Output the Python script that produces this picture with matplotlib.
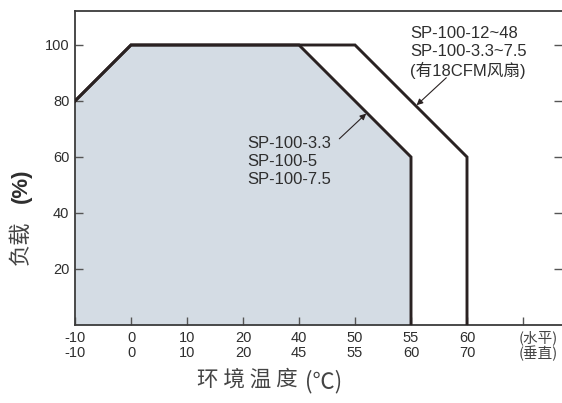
import matplotlib
matplotlib.use("Agg")
import matplotlib.pyplot as plt
from matplotlib.transforms import ScaledTranslation

# ---- data ----
temp_horizontal = ["-10", "0", "10", "20", "40", "50", "55", "60", "(水平)"]
temp_vertical = ["-10", "0", "10", "20", "45", "55", "60", "70", "(垂直)"]
load_ticks = [20, 40, 60, 80, 100]

# curve without fan (index positions on the category axis)
nofan_x = [0, 1, 4, 6, 6]
nofan_load = [80, 100, 100, 60, 0]
# curve with 18CFM fan
fan_x = [0, 1, 5, 7, 7]
fan_load = [80, 100, 100, 60, 0]

label_nofan = "SP-100-3.3\nSP-100-5\nSP-100-7.5"
label_fan = "SP-100-12~48\nSP-100-3.3~7.5\n(有18CFM风扇)"

latin = ["Liberation Sans", "Noto Sans CJK SC", "DejaVu Sans"]
cjk = ["Noto Sans CJK SC", "DejaVu Sans"]
plt.rcParams['font.family'] = latin

line_c = "#2a2222"
fill_c = "#d4dce4"
text_c = "#2e2e2e"
cjk_c = "#444444"
spine_c = "#3c3c3c"

fig = plt.figure(figsize=(5.62, 4.03), dpi=100)
ax = fig.add_axes([75/562, 1-325/403, 1-75/562, (325-11)/403])
ax.set_xlim(0, (562-75)/56)
ax.set_ylim(0, 314/2.8)

ax.fill_between(nofan_x, nofan_load, 0, color=fill_c, lw=0, zorder=1)
ax.plot(fan_x, fan_load, color=line_c, lw=2.1, solid_joinstyle='miter', zorder=3)
ax.plot(nofan_x, nofan_load, color=line_c, lw=2.1, solid_joinstyle='miter', zorder=3)

for s in ['left', 'top', 'bottom']:
    ax.spines[s].set_color(spine_c)
    ax.spines[s].set_linewidth(1.3)
ax.spines['right'].set_visible(False)

ax.set_yticks(load_ticks)
ax.set_yticklabels([str(v) for v in load_ticks])
ax.set_xticks(range(len(temp_horizontal)))
xl = [f"{h}\n{v}" for h, v in zip(temp_horizontal, temp_vertical)]
ax.set_xticklabels(xl, linespacing=1.15)
ax.tick_params(axis='both', direction='in', length=6, width=1.0, color='#555555',
               labelsize=10.5, labelcolor=text_c)
ax.tick_params(axis='y', right=True, pad=4)
ax.tick_params(axis='x', pad=4)
for t in ax.get_xticklabels()[-1:]:
    t.set_family(cjk)
    t.set_fontsize(10.5)
    t.set_linespacing(1.0)
    t.set_color(cjk_c)
    t.set_horizontalalignment('left')
    t.set_transform(t.get_transform() + ScaledTranslation(-4/100, 0, fig.dpi_scale_trans))

ax.text(5.98, 97.3, label_fan, fontsize=12, color=text_c, va='center', ha='left',
        linespacing=1.25, zorder=4)
ax.text(3.07, 58.4, label_nofan, fontsize=12, color=text_c, va='center', ha='left',
        linespacing=1.25, zorder=4)

ax.annotate("", xy=(5.2, 75.5), xytext=(4.72, 66.5),
            arrowprops=dict(arrowstyle='-|>', color=line_c, lw=0.8,
                            mutation_scale=9, shrinkA=0, shrinkB=0), zorder=4)
ax.annotate("", xy=(6.1, 78.5), xytext=(6.63, 88.3),
            arrowprops=dict(arrowstyle='-|>', color=line_c, lw=0.8,
                            mutation_scale=9, shrinkA=0, shrinkB=0), zorder=4)

# x axis title
fig.text(247/562, 1-380/403, "环 境 温 度", family=cjk, fontsize=15.5,
         color=cjk_c, ha='center', va='center')
fig.text(324/562, 1-382/403, "(℃)", family=cjk, fontsize=16,
         color=cjk_c, ha='center', va='center')
# y axis title
fig.text(20/562, 1-243/403, "负载", family=cjk, fontsize=16,
         color=cjk_c, ha='center', va='center', rotation=90)
fig.text(21/562, 1-186/403, "(%)", family=latin, fontsize=16, weight='bold',
         color=text_c, ha='center', va='center', rotation=90)

fig.savefig("out.png", dpi=100)
